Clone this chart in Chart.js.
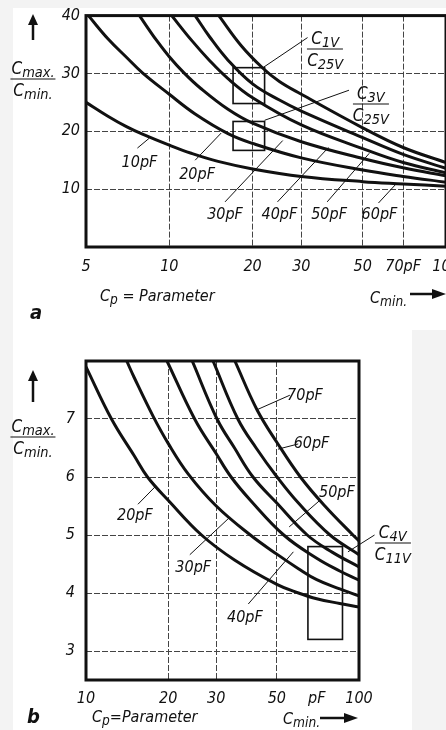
<!DOCTYPE html>
<html>
<head>
<meta charset="utf-8">
<script src="https://cdn.jsdelivr.net/npm/chart.js@4.4.1/dist/chart.umd.min.js"></script>
<style>
html, body { margin: 0; padding: 0; background: #fff; }
#page {
    position: relative; width: 446px; height: 730px; overflow: hidden; background: #f3f3f3;
    font-family: "DejaVu Sans Condensed", "Liberation Sans Narrow", "DejaVu Sans", sans-serif;
    font-style: italic; color: #111;
}
.paper { position: absolute; background: #fff; }
#wrapA { position: absolute; left: 0; top: 0; }
#wrapB { position: absolute; left: 0; top: 330px; }
.lbl { position: absolute; white-space: nowrap; font-size: 16px; line-height: 1; transform: translate(-50%, -50%); }
.frac { text-align: center; font-size: 17px; }
.frac .num { border-bottom: 1.5px solid #111; padding: 0 1px 2px 1px; }
.frac .den { padding-top: 2px; }
sub { font-size: 0.85em; vertical-align: -0.25em; line-height: 0; }
.txt { position: absolute; white-space: nowrap; font-size: 16px; line-height: 1; }
.big { font-weight: bold; font-size: 20px; }
svg { position: absolute; overflow: visible; }
</style>
</head>
<body>
<div id="page">
    <div class="paper" style="left:13px;top:8px;width:433px;height:322px;"></div>
    <div class="paper" style="left:13px;top:330px;width:399px;height:400px;"></div>
    <div id="wrapA"><canvas id="chartA" width="470" height="300"></canvas></div>
    <div id="wrapB"><canvas id="chartB" width="446" height="400"></canvas></div>

    <!-- y titles -->
    <svg style="left:27px;top:14px" width="12" height="26"><line x1="6" y1="26" x2="6" y2="8" stroke="#111" stroke-width="2.5"/><polygon points="1,11 6,0 11,11" fill="#111"/></svg>
    <div class="lbl frac" style="left:33px;top:79px;"><div class="num">C<sub>max.</sub></div><div class="den">C<sub>min.</sub></div></div>
    <svg style="left:27px;top:370px" width="12" height="32"><line x1="6" y1="32" x2="6" y2="8" stroke="#111" stroke-width="2.5"/><polygon points="1,11 6,0 11,11" fill="#111"/></svg>
    <div class="lbl frac" style="left:33px;top:437px;"><div class="num">C<sub>max.</sub></div><div class="den">C<sub>min.</sub></div></div>

    <!-- x titles -->
    <div class="txt" style="left:100px;top:288px;">C<sub>p</sub> = Parameter</div>
    <div class="txt" style="left:370px;top:290px;">C<sub>min.</sub></div>
    <svg style="left:410px;top:288px" width="36" height="12"><line x1="0" y1="6" x2="26" y2="6" stroke="#111" stroke-width="2.5"/><polygon points="22,1 36,6 22,11" fill="#111"/></svg>
    <div class="txt big" style="left:30px;top:302px;">a</div>

    <div class="txt" style="left:92px;top:709px;">C<sub>p</sub>=Parameter</div>
    <div class="txt" style="left:283px;top:711px;">C<sub>min.</sub></div>
    <svg style="left:320px;top:712px" width="38" height="12"><line x1="0" y1="6" x2="28" y2="6" stroke="#111" stroke-width="2.5"/><polygon points="24,1 38,6 24,11" fill="#111"/></svg>
    <div class="txt big" style="left:27px;top:706px;">b</div>
</div>
<script>
// ---- chart a : Cmax/Cmin over Cmin, parameter Cp ----
const xTicksA = [5, 10, 20, 30, 50, 70, 100];
const yTicksA = [10, 20, 30, 40];
const paramsA = ['10pF', '20pF', '30pF', '40pF', '50pF', '60pF'];

const cminA10 = [5, 6, 7, 8, 10, 12, 15, 20, 30, 50, 70, 100];
const ratioA10 = [25.0, 22.6, 20.8, 19.5, 17.6, 16.2, 14.8, 13.5, 12.2, 11.3, 10.9, 10.5];
const cminA20 = [5.1, 6, 7, 8, 10, 12.4, 16.3, 20, 30, 50, 70, 100];
const ratioA20 = [40, 36.0, 32.8, 30.1, 26.4, 23.0, 19.6, 17.9, 15.4, 13.3, 12.2, 11.2];
const cminA30 = [7.8, 9, 10, 11.3, 13, 16.3, 20, 30, 50, 70, 100];
const ratioA30 = [40, 35.7, 32.9, 30.1, 27.4, 23.8, 21.4, 18.2, 15.3, 13.7, 12.3];
const cminA40 = [10.2, 12, 14, 16.3, 20, 30, 50, 70, 100];
const ratioA40 = [40, 35.8, 32.2, 29.1, 25.8, 21.1, 17.0, 14.6, 12.8];
const cminA50 = [12.4, 14, 16.3, 20, 25, 30, 50, 70, 100];
const ratioA50 = [40, 36.3, 32.3, 28.2, 25.4, 23.5, 18.9, 16.0, 13.6];
const cminA60 = [15.1, 18.2, 21.8, 25, 30, 50, 70, 100];
const ratioA60 = [40, 34.8, 30.9, 28.6, 26.4, 20.6, 17.2, 14.6];

// ---- chart b ----
const xTicksB = [10, 20, 30, 50, 70, 100];
const yTicksB = [3, 4, 5, 6, 7];
const paramsB = ['20pF', '30pF', '40pF', '50pF', '60pF', '70pF'];

const cminB20 = [10, 12.4, 15, 16.8, 20, 26.5, 35, 50, 60, 70, 85, 100];
const ratioB20 = [7.9, 7.0, 6.37, 6.0, 5.6, 5.0, 4.57, 4.15, 4.0, 3.9, 3.82, 3.76];
const cminB30 = [14.1, 15, 17.6, 20, 23.7, 30, 40, 50, 60, 70, 85, 100];
const ratioB30 = [8, 7.72, 7.05, 6.58, 6.05, 5.5, 5.0, 4.67, 4.42, 4.23, 4.07, 3.95];
const cminB40 = [19.8, 25, 30, 34, 40, 53, 70, 85, 100];
const ratioB40 = [8, 7.0, 6.4, 6.0, 5.6, 5.0, 4.6, 4.38, 4.22];
const cminB50 = [24.5, 30.2, 35, 40.9, 50, 64.6, 80, 100];
const ratioB50 = [8, 7.0, 6.5, 6.0, 5.55, 5.0, 4.7, 4.45];
const cminB60 = [29.2, 36, 42, 50.1, 60, 78.3, 100];
const ratioB60 = [8, 7.0, 6.5, 6.0, 5.55, 5.0, 4.66];
const cminB70 = [35.1, 42.3, 50, 61, 75, 95, 100];
const ratioB70 = [8, 7.16, 6.6, 6.0, 5.5, 5.0, 4.9];

const FONT = '"DejaVu Sans Condensed", "Liberation Sans Narrow", "DejaVu Sans", sans-serif';
const tickFont = { family: FONT, size: 16, style: 'italic' };

function toPoints(xs, ys) {
    return xs.map(function (x, i) { return { x: x, y: ys[i] }; });
}
function curve(label, xs, ys) {
    return {
        label: label, data: toPoints(xs, ys), borderColor: '#111', borderWidth: 3,
        pointRadius: 0, fill: false, tension: 0.4
    };
}

// frame, boxes and leader lines, in data coordinates
const framePlugin = {
    id: 'frame',
    afterDraw(chart, args, opts) {
        const ctx = chart.ctx, a = chart.chartArea, sx = chart.scales.x, sy = chart.scales.y;
        ctx.save();
        ctx.strokeStyle = '#111';
        ctx.lineWidth = 1.6;
        (opts.boxes || []).forEach(function (b) {
            const x1 = sx.getPixelForValue(b[0]), x2 = sx.getPixelForValue(b[2]);
            const y1 = sy.getPixelForValue(b[1]), y2 = sy.getPixelForValue(b[3]);
            ctx.strokeRect(x1, y2, x2 - x1, y1 - y2);
        });
        ctx.lineWidth = 1;
        (opts.leaders || []).forEach(function (l) {
            ctx.beginPath();
            ctx.moveTo(sx.getPixelForValue(l[0]), sy.getPixelForValue(l[1]));
            ctx.lineTo(sx.getPixelForValue(l[2]), sy.getPixelForValue(l[3]));
            ctx.stroke();
        });
        ctx.lineWidth = 3;
        ctx.strokeRect(a.left, a.top, a.right - a.left, a.bottom - a.top);
        ctx.restore();
    }
};

function makeOptions(cfg) {
    return {
        responsive: false,
        animation: false,
        layout: { padding: { top: cfg.top, right: cfg.right, left: 0, bottom: 0 } },
        plugins: {
            legend: { display: false },
            tooltip: { enabled: false },
            frame: { boxes: cfg.boxes, leaders: cfg.leaders }
        },
        scales: {
            x: {
                type: 'logarithmic', min: cfg.xTicks[0], max: cfg.xTicks[cfg.xTicks.length - 1],
                afterBuildTicks: function (s) { s.ticks = cfg.xTicks.map(function (v) { return { value: v }; }); },
                afterFit: function (s) { s.height = cfg.xHeight; },
                grid: {
                    drawTicks: false, lineWidth: 1,
                    color: function (c) { return (c.tick && cfg.xNoGrid.indexOf(c.tick.value) >= 0) ? 'rgba(0,0,0,0)' : '#444'; }
                },
                border: { display: false, dash: [6, 2] },
                ticks: {
                    autoSkip: false, maxRotation: 0, padding: cfg.xPad, color: '#111', font: tickFont,
                    callback: function (v) { return v === 70 ? cfg.label70 : String(v); }
                }
            },
            y: {
                min: cfg.yMin, max: cfg.yMax,
                afterBuildTicks: function (s) { s.ticks = cfg.yTicks.map(function (v) { return { value: v }; }); },
                afterFit: function (s) { s.width = 86; },
                grid: {
                    drawTicks: false, lineWidth: 1,
                    color: function (c) { return (c.tick && c.tick.value === cfg.yMax) ? 'rgba(0,0,0,0)' : '#444'; }
                },
                border: { display: false, dash: [6, 2] },
                ticks: { padding: cfg.yPad, color: '#111', font: tickFont }
            }
        }
    };
}

const chartA = new Chart(document.getElementById('chartA').getContext('2d'), {
    type: 'line',
    data: {
        datasets: [
            curve(paramsA[0], cminA10, ratioA10),
            curve(paramsA[1], cminA20, ratioA20),
            curve(paramsA[2], cminA30, ratioA30),
            curve(paramsA[3], cminA40, ratioA40),
            curve(paramsA[4], cminA50, ratioA50),
            curve(paramsA[5], cminA60, ratioA60)
        ]
    },
    options: makeOptions({
        top: 15, right: 24, xHeight: 53, xPad: 10, yPad: 6,
        xTicks: xTicksA, yTicks: yTicksA, yMin: 0, yMax: 40,
        xNoGrid: [5, 100], label70: '70pF',
        boxes: [[17.0, 24.8, 22.1, 31.0], [17.0, 16.7, 22.1, 21.7]],
        leaders: [
            [7.67, 17.1, 8.46, 18.8], [12.4, 15.0, 15.4, 19.7], [15.9, 7.8, 25.7, 18.4],
            [24.6, 7.8, 37.6, 17.2], [37.2, 7.8, 52.8, 16.2], [57.0, 7.6, 66.3, 11.0],
            [21.8, 31.0, 31.6, 36.2], [22.1, 21.9, 44.6, 27.1]
        ]
    }),
    plugins: [framePlugin]
});

const chartB = new Chart(document.getElementById('chartB').getContext('2d'), {
    type: 'line',
    data: {
        datasets: [
            curve(paramsB[0], cminB20, ratioB20),
            curve(paramsB[1], cminB30, ratioB30),
            curve(paramsB[2], cminB40, ratioB40),
            curve(paramsB[3], cminB50, ratioB50),
            curve(paramsB[4], cminB60, ratioB60),
            curve(paramsB[5], cminB70, ratioB70)
        ]
    },
    options: makeOptions({
        top: 31, right: 87, xHeight: 50, xPad: 9, yPad: 11,
        xTicks: xTicksB, yTicks: yTicksB, yMin: 2.5, yMax: 8,
        xNoGrid: [10, 70, 100], label70: 'pF',
        boxes: [[65, 3.2, 87, 4.8]],
        leaders: [
            [15.5, 5.53, 17.9, 5.83], [24.0, 4.66, 33.7, 5.31], [39.3, 3.81, 57.5, 4.71],
            [72, 5.6, 55.5, 5.14], [59.9, 6.57, 50.5, 6.48], [55.8, 7.41, 42.3, 7.16],
            [114, 5.0, 91.1, 4.71]
        ]
    }),
    plugins: [framePlugin]
});

// labels next to the curves, placed through the scales
function placeLabels(chart, top, items) {
    const page = document.getElementById('page');
    items.forEach(function (it) {
        const d = document.createElement('div');
        d.className = it.frac ? 'lbl frac' : 'lbl';
        d.innerHTML = it.html;
        d.style.left = chart.scales.x.getPixelForValue(it.x) + 'px';
        d.style.top = (top + chart.scales.y.getPixelForValue(it.y)) + 'px';
        page.appendChild(d);
    });
}

placeLabels(chartA, 0, [
    { x: 7.8, y: 14.7, html: paramsA[0] },
    { x: 12.6, y: 12.6, html: paramsA[1] },
    { x: 15.9, y: 5.7, html: paramsA[2] },
    { x: 25.0, y: 5.7, html: paramsA[3] },
    { x: 37.8, y: 5.7, html: paramsA[4] },
    { x: 57.5, y: 5.7, html: paramsA[5] },
    { x: 36.6, y: 34.3, frac: true, html: '<div class="num">C<sub>1V</sub></div><div class="den">C<sub>25V</sub></div>' },
    { x: 53.5, y: 24.7, frac: true, html: '<div class="num">C<sub>3V</sub></div><div class="den">C<sub>25V</sub></div>' }
]);

placeLabels(chartB, 330, [
    { x: 15.1, y: 5.34, html: paramsB[0] },
    { x: 24.7, y: 4.45, html: paramsB[1] },
    { x: 38.2, y: 3.59, html: paramsB[2] },
    { x: 83, y: 5.74, html: paramsB[3] },
    { x: 67, y: 6.59, html: paramsB[4] },
    { x: 63.4, y: 7.41, html: paramsB[5] },
    { x: 133, y: 4.86, frac: true, html: '<div class="num">C<sub>4V</sub></div><div class="den">C<sub>11V</sub></div>' }
]);
</script>
</body>
</html>
